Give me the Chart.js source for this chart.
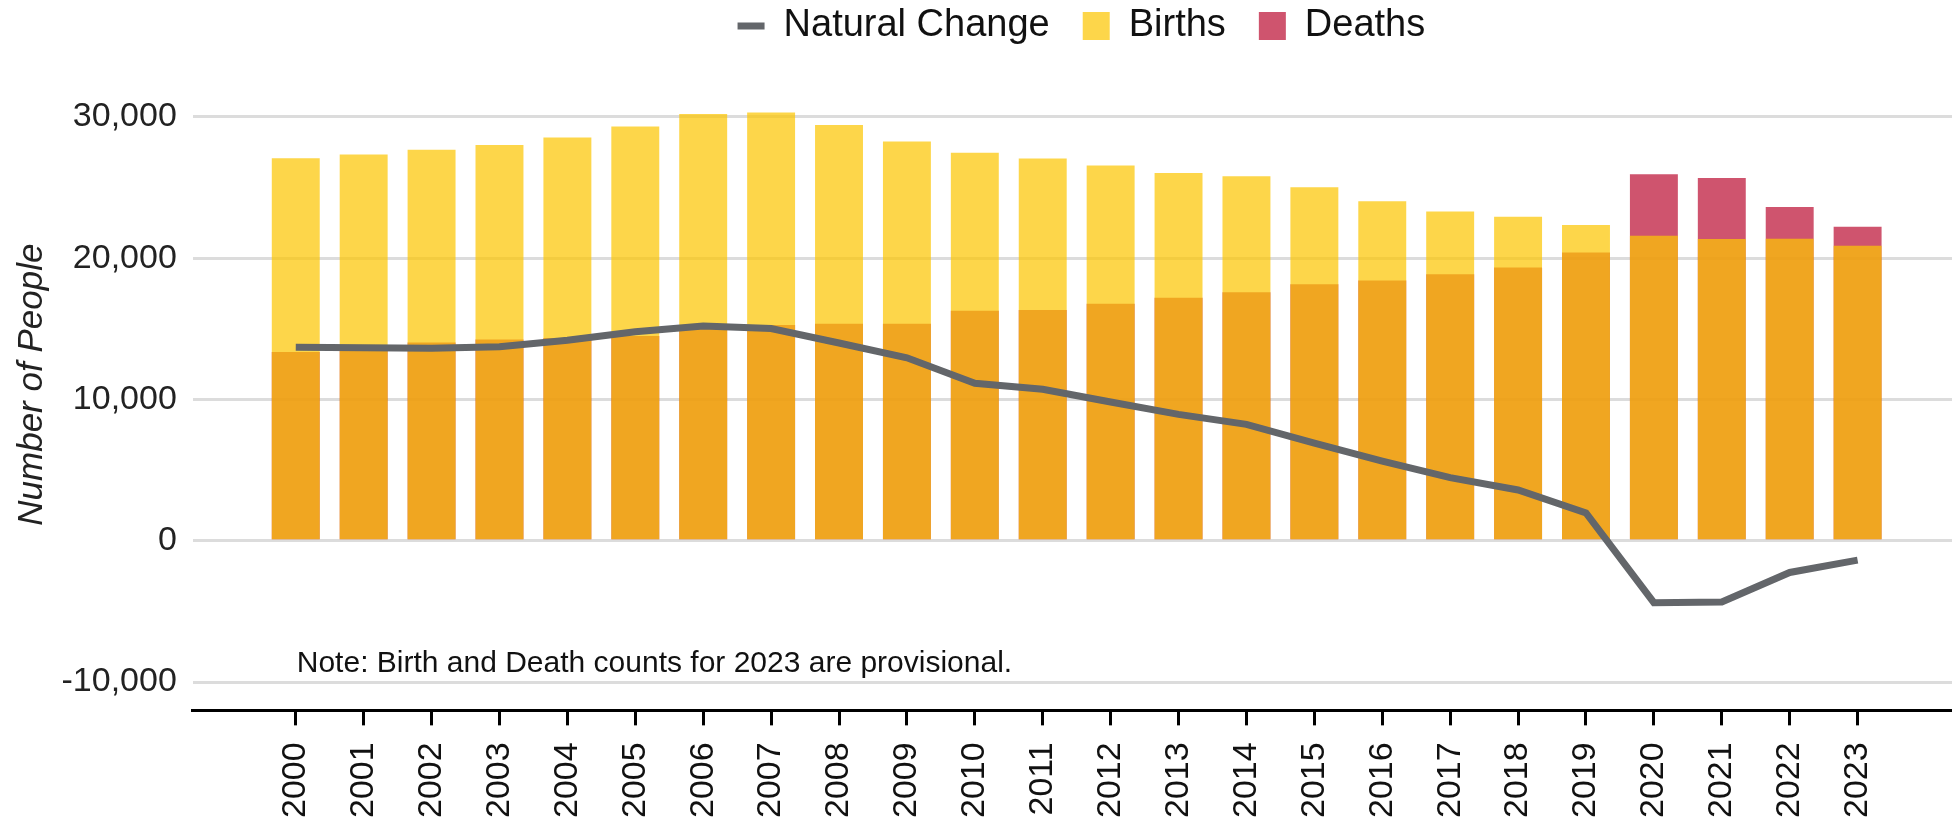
<!DOCTYPE html>
<html>
<head>
<meta charset="utf-8">
<script src="https://cdn.jsdelivr.net/npm/chart.js@4.4.1/dist/chart.umd.min.js"></script>
<style>
  html, body { margin: 0; padding: 0; background: #fff; }
  #wrap { width: 1952px; height: 818px; }
</style>
</head>
<body>
<div id="wrap"><canvas id="births_deaths"></canvas></div>
<script>
var years = [2000, 2001, 2002, 2003, 2004, 2005, 2006, 2007, 2008, 2009, 2010, 2011,
             2012, 2013, 2014, 2015, 2016, 2017, 2018, 2019, 2020, 2021, 2022, 2023];
var births = [27080, 27340, 27670, 28020, 28540, 29320, 30210, 30310, 29430, 28260, 27460, 27050,
              26560, 26040, 25810, 25030, 24040, 23310, 22930, 22350, 21590, 21360, 21380, 20880];
var deaths = [13370, 13670, 14030, 14250, 14360, 14500, 14990, 15270, 15370, 15370, 16290, 16340,
              16780, 17210, 17590, 18150, 18430, 18860, 19350, 20400, 25950, 25670, 23620, 22230];
var naturalChange = [13700, 13660, 13630, 13740, 14200, 14800, 15200, 15020, 14000, 12950, 11150, 10730,
                     9820, 8950, 8240, 6920, 5640, 4470, 3600, 1970, -4380, -4330, -2240, -1370];
var yTicks = [-10000, 0, 10000, 20000, 30000];
var noteText = "Note: Birth and Death counts for 2023 are provisional.";

Chart.defaults.font.family = "'Liberation Sans', Arial, sans-serif";
Chart.defaults.color = "#222";

function pts(vals) {
  return years.map(function (yr, i) { return {x: yr, y: vals[i]}; });
}

// note text sits just above the -10,000 gridline
var notePlugin = {
  id: "note",
  afterLayout: function (chart) {
    // legend sits a little right of centre and close to the top edge
    chart.legend.left += 9;
    chart.legend.right += 9;
    chart.legend.top -= 4;
  },
  afterDraw: function (chart) {
    var ctx = chart.ctx;
    var x = chart.scales.x.getPixelForValue(years[0]);
    var y = chart.scales.y.getPixelForValue(-10000) - 10;
    ctx.save();
    ctx.font = "30px 'Liberation Sans', Arial, sans-serif";
    ctx.fillStyle = "#111";
    ctx.textBaseline = "alphabetic";
    ctx.fillText(noteText, x + 1, y);
    ctx.restore();
  }
};

new Chart("births_deaths", {
  type: "bar",
  data: {
    datasets: [{
      type: "line",
      label: "Natural Change",
      data: pts(naturalChange),
      borderColor: "#63666a",
      backgroundColor: "#63666a",
      borderWidth: 7,
      pointRadius: 0,
      pointStyle: "line",
      tension: 0
    }, {
      label: "Births",
      data: pts(births),
      backgroundColor: "rgba(252,198,4,0.72)",
      pointStyle: "rect",
      grouped: false,
      categoryPercentage: 1,
      barPercentage: 0.706
    }, {
      label: "Deaths",
      data: pts(deaths),
      backgroundColor: "rgba(188,18,54,0.72)",
      pointStyle: "rect",
      grouped: false,
      categoryPercentage: 1,
      barPercentage: 0.706
    }]
  },
  options: {
    responsive: true,
    maintainAspectRatio: false,
    animation: false,
    layout: {padding: {top: -22, right: 0, bottom: -17, left: 2.5}},
    plugins: {
      legend: {
        position: "top",
        fullSize: false,
        labels: {
          usePointStyle: true,
          pointStyleWidth: 27,
          boxHeight: 28,
          padding: 33,
          color: "#111",
          font: {size: 38}
        }
      },
      tooltip: {enabled: false}
    },
    scales: {
      x: {
        type: "linear",
        offset: false,
        min: 1998.484,
        max: 2024.39,
        afterBuildTicks: function (axis) {
          axis.ticks = years.map(function (v) { return {value: v}; });
        },
        ticks: {
          autoSkip: false,
          minRotation: 90,
          maxRotation: 90,
          padding: 17,
          color: "#111",
          font: {size: 34},
          callback: function (v) { return String(v); }
        },
        grid: {offset: false, drawOnChartArea: false, drawTicks: true, tickLength: 15, tickWidth: 3, tickColor: "#000"},
        border: {display: true, color: "#000", width: 3}
      },
      y: {
        min: -12000,
        max: 34100,
        afterBuildTicks: function (axis) {
          axis.ticks = yTicks.map(function (v) { return {value: v}; });
        },
        ticks: {
          padding: 16,
          color: "#222",
          font: {size: 34},
          callback: function (v) { return v.toLocaleString("en-US"); }
        },
        grid: {color: "#dcdcdc", lineWidth: 3, drawTicks: false},
        border: {display: false},
        title: {
          display: true,
          text: "Number of People",
          color: "#222",
          font: {size: 35, style: "italic"},
          padding: {top: 8.5, bottom: -7.5}
        }
      }
    }
  },
  plugins: [notePlugin]
});
</script>
</body>
</html>
